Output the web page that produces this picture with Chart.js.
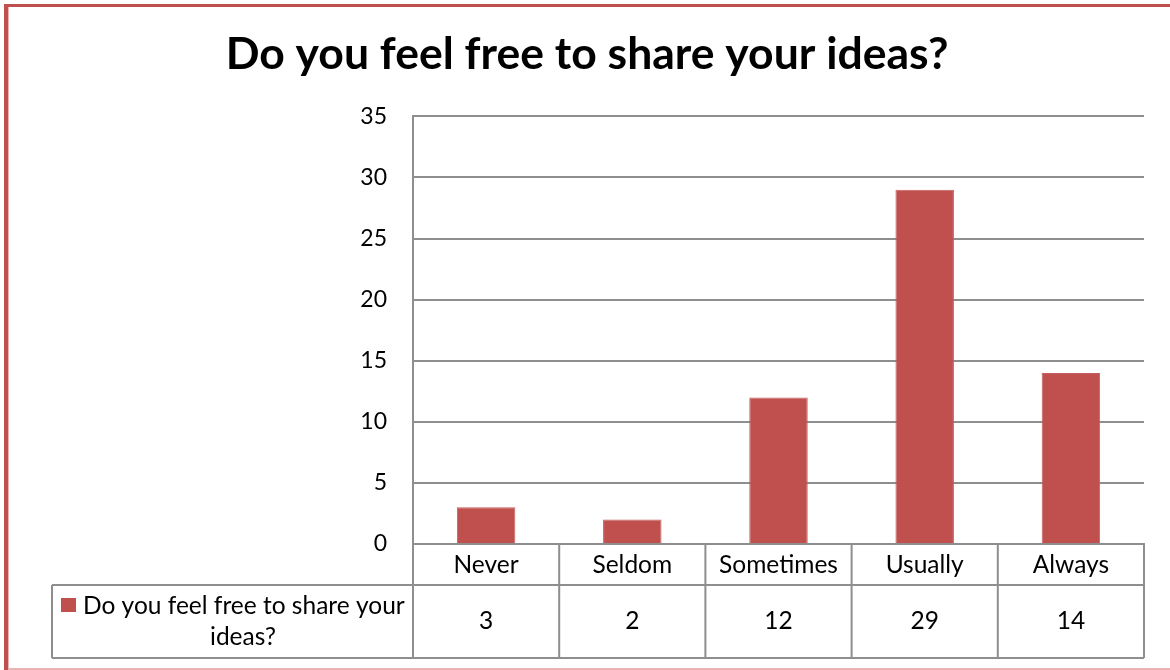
<!DOCTYPE html>
<html>
<head>
<meta charset="utf-8">
<script src="https://cdn.jsdelivr.net/npm/chart.js@4.4.1/dist/chart.umd.min.js"></script>
<style>
  html, body { margin: 0; padding: 0; background: #ffffff; }
  #wrap { position: relative; width: 1170px; height: 670px; }
  canvas { display: block; }
</style>
</head>
<body>
<div id="wrap"><canvas id="c" width="1170" height="670"></canvas></div>
<script>
// Survey answers and counts
const chartTitle = 'Do you feel free to share your ideas?';
const seriesName = 'Do you feel free to share your ideas?';
const seriesLegendLines = ['Do you feel free to share your', 'ideas?'];
const categories = ['Never', 'Seldom', 'Sometimes', 'Usually', 'Always'];
const counts = [3, 2, 12, 29, 14];
const yTicks = [0, 5, 10, 15, 20, 25, 30, 35];

const FONT = 'Lato, "Liberation Sans", sans-serif';
const BAR = '#c0504d';
const LINE = '#8e8e8e';

// Frame around the chart, the category/value data table under the plot
const tablePlugin = {
  id: 'dataTable',
  beforeDraw(chart) {
    const ctx = chart.ctx;
    ctx.save();
    ctx.fillStyle = '#ffffff';
    ctx.fillRect(0, 0, chart.width, chart.height);
    ctx.restore();
  },
  afterDraw(chart) {
    const ctx = chart.ctx;
    const x = chart.scales.x;
    const area = chart.chartArea;
    const n = categories.length;
    const half = (x.getPixelForValue(1) - x.getPixelForValue(0)) / 2;
    const right = x.getPixelForValue(n - 1) + half;
    const rowTop = area.bottom;
    const rowMid = rowTop + 41;
    const rowBot = rowMid + 73;
    const legendLeft = 52;

    ctx.save();
    ctx.strokeStyle = LINE;
    ctx.lineWidth = 2;
    ctx.beginPath();
    // horizontal rules
    ctx.moveTo(legendLeft, rowMid); ctx.lineTo(right, rowMid);
    ctx.moveTo(legendLeft, rowBot); ctx.lineTo(right, rowBot);
    // legend cell left edge
    ctx.moveTo(legendLeft, rowMid); ctx.lineTo(legendLeft, rowBot);
    // category boundaries
    for (let i = 0; i <= n; i++) {
      const bx = x.getPixelForValue(i) - half;
      ctx.moveTo(bx, rowTop); ctx.lineTo(bx, rowBot);
    }
    ctx.stroke();

    // category names and values
    ctx.fillStyle = '#000000';
    ctx.textAlign = 'center';
    ctx.textBaseline = 'middle';
    ctx.font = '24.5px ' + FONT;
    categories.forEach((c, i) => {
      const cx = x.getPixelForValue(i);
      ctx.fillText(c, cx, (rowTop + rowMid) / 2 + 1);
      ctx.fillText(String(counts[i]), cx, (rowMid + rowBot) / 2);
    });

    // series key
    ctx.fillStyle = BAR;
    ctx.fillRect(61, 598, 15, 14);
    ctx.fillStyle = '#000000';
    ctx.textAlign = 'left';
    ctx.fillText(seriesLegendLines[0], 83, 606);
    ctx.textAlign = 'center';
    ctx.fillText(seriesLegendLines[1], 243, 637);

    // outer frame
    ctx.fillStyle = '#c0504d';
    ctx.fillRect(4, 4, chart.width - 4, 3);
    ctx.fillRect(4, 4, 4, chart.height - 4);
    ctx.fillStyle = '#e8b4b3';
    ctx.fillRect(8, 7, 1, chart.height - 7);
    ctx.fillRect(8, 668, chart.width - 8, 2);
    ctx.restore();
  }
};

new Chart(document.getElementById('c'), {
  type: 'bar',
  data: {
    labels: categories,
    datasets: [{
      label: seriesName,
      data: counts,
      backgroundColor: BAR,
      borderColor: '#c65e5b',
      borderWidth: 1,
      categoryPercentage: 0.8,
      barPercentage: 0.5
    }]
  },
  plugins: [tablePlugin],
  options: {
    responsive: false,
    animation: false,
    layout: { padding: { left: 30, right: 26, top: 0, bottom: 0 } },
    plugins: {
      legend: { display: false },
      tooltip: { enabled: false },
      title: {
        display: true,
        text: chartTitle,
        color: '#000000',
        font: { family: FONT, size: 44.5, weight: 'bold', lineHeight: 1.2 },
        padding: { top: 28, bottom: 35 }
      }
    },
    scales: {
      x: {
        offset: true,
        grid: { display: false, drawTicks: false },
        border: { display: true, color: LINE, width: 2 },
        ticks: { display: false },
        afterFit(s) { s.height = 126; }
      },
      y: {
        min: 0,
        max: 35,
        afterBuildTicks(s) { s.ticks = yTicks.map(v => ({ value: v })); },
        grid: { color: LINE, lineWidth: 2, drawTicks: false },
        border: { display: true, color: LINE, width: 2 },
        ticks: {
          color: '#000000',
          padding: 26,
          font: { family: FONT, size: 23 }
        },
        afterFit(s) { s.width = 383; }
      }
    }
  }
});
</script>
</body>
</html>
